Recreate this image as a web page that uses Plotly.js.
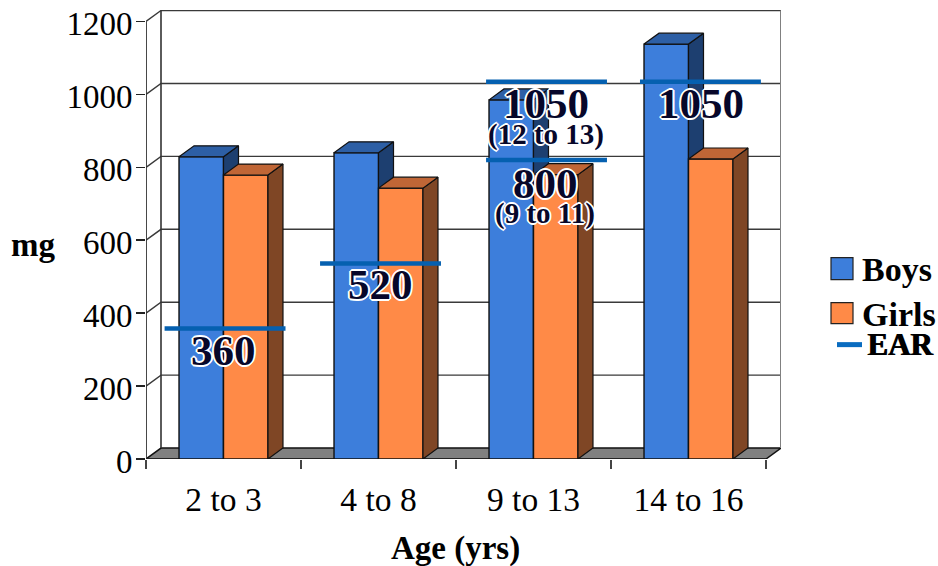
<!DOCTYPE html>
<html>
<head>
<meta charset="utf-8">
<script src="https://cdn.plot.ly/plotly-3.0.1.min.js"></script>
<style>html,body{margin:0;padding:0;background:#fff}#c{width:938px;height:566px}</style>
</head>
<body>
<div id="c"></div>
<script>
const categories = ['2 to 3', '4 to 8', '9 to 13', '14 to 16'];
const groupCenters = [0.5, 1.5, 2.5, 3.5];
const boys = [829, 840, 985, 1138];
const girls = [779, 743, 780, 823];
const yTicks = [0, 200, 400, 600, 800, 1000, 1200];
// EAR bars: where each one sits in the picture, and its label
const earCenters = [0.51, 1.513, 2.584, 2.584, 3.577];
const earLevels = [358, 536, 1035, 820, 1035];
const earLabels = [
  {t: '360', x: 0.497, y: 297, big: true},
  {t: '520', x: 1.51, y: 478, big: true},
  {t: '1050', x: 2.58, y: 974, big: true},
  {t: '(12 to 13)', x: 2.58, y: 889, big: false},
  {t: '800', x: 2.58, y: 757, big: true},
  {t: '(9 to 11)', x: 2.575, y: 672, big: false},
  {t: '1050', x: 3.58, y: 974, big: true}
];

const W = 938, H = 566;
const M = {l: 146, r: 157, t: 10, b: 106.5};
const plotW = W - M.l - M.r, plotH = H - M.t - M.b;
const pxPerGroup = 155, pxPerUnit = 0.365;
const xMax = plotW / pxPerGroup, yMax = plotH / pxPerUnit;
const dX = 15 / pxPerGroup, dY = 30;      // depth of the 3-D look
const barW = 0.287, earW = 0.78;
const serif = '"Liberation Serif","Times New Roman",serif';
const skip = {hoverinfo: 'skip', showlegend: false, cliponaxis: false};

function px(p) { return (p - M.l) / plotW; }
function py(p) { return (H - M.b - p) / plotH; }

// ---- walls and floor (bottom subplot)
const traces = [];
traces.push(Object.assign({type: 'scatter', mode: 'lines', x: [0, dX, 4 + dX, 4, 0], y: [0, dY, dY, 0, 0],
  fill: 'toself', fillcolor: '#808080', line: {color: '#111', width: 1.5}}, skip));
const gridX = [], gridY = [];
yTicks.forEach(v => {
  gridX.push(0, dX, 4 + dX, null);
  gridY.push(v, v + dY, v + dY, null);
});
traces.push(Object.assign({type: 'scatter', mode: 'lines', x: gridX.slice(4), y: gridY.slice(4),
  line: {color: '#3a3a3a', width: 1.4}}, skip));
traces.push(Object.assign({type: 'scatter', mode: 'lines', x: [dX, dX], y: [dY, 1200 + dY],
  line: {color: '#333', width: 1.6}}, skip));
traces.push(Object.assign({type: 'scatter', mode: 'lines', x: [4 + dX, 4 + dX], y: [dY, 1200 + dY],
  line: {color: '#808080', width: 2}}, skip));
traces.push(Object.assign({type: 'scatter', mode: 'lines', x: [0, 0], y: [0, 1200],
  line: {color: '#333', width: 1.8}}, skip));
traces.push(Object.assign({type: 'scatter', mode: 'lines', x: [0, 4], y: [0, 0],
  line: {color: '#222', width: 1.5}}, skip));

// ---- one bar series with its top and side faces
function series(vals, offset, front, top, side, xa, ya) {
  const lefts = groupCenters.map(c => c + offset);
  traces.push({type: 'bar', x: groupCenters, y: vals, offset: offset, width: barW,
    marker: {color: front, line: {color: '#111', width: 1.4}},
    hoverinfo: 'skip', showlegend: false, xaxis: xa, yaxis: ya});
  const tx = [], ty = [], sx = [], sy = [];
  vals.forEach((v, i) => {
    const a = lefts[i], b = a + barW;
    tx.push(a, a + dX, b + dX, b, a, null);
    ty.push(v, v + dY, v + dY, v, v, null);
    sx.push(b, b + dX, b + dX, b, b, null);
    sy.push(v, v + dY, dY, 0, v, null);
  });
  traces.push(Object.assign({type: 'scatter', mode: 'lines', x: sx, y: sy, fill: 'toself', fillcolor: side,
    line: {color: '#111', width: 1.2}, xaxis: xa, yaxis: ya}, skip));
  traces.push(Object.assign({type: 'scatter', mode: 'lines', x: tx, y: ty, fill: 'toself', fillcolor: top,
    line: {color: '#111', width: 1.2}, xaxis: xa, yaxis: ya}, skip));
}
series(boys, -barW, '#3d7edb', '#2d5fa5', '#1d3f70', 'x2', 'y2');
series(girls, 0, '#ff8a47', '#c06636', '#7f4625', 'x3', 'y3');

// ---- EAR bars
const ex = [], ey = [];
earCenters.forEach((c, i) => {
  ex.push(c - earW / 2, c + earW / 2, null);
  ey.push(earLevels[i], earLevels[i], null);
});
traces.push(Object.assign({type: 'scatter', mode: 'lines', x: ex, y: ey,
  line: {color: '#0560b0', width: 4.5}, xaxis: 'x3', yaxis: 'y3'}, skip));

const halo = '1px 0 0 #fff,-1px 0 0 #fff,0 1px 0 #fff,0 -1px 0 #fff,1px 1px 0 #fff,-1px -1px 0 #fff,1px -1px 0 #fff,-1px 1px 0 #fff,2px 0 0 #fff,-2px 0 0 #fff,0 2px 0 #fff,0 -2px 0 #fff';
const annotations = earLabels.map(l => ({
  text: '<b>' + l.t + '</b>', xref: 'x', yref: 'y', x: l.x, y: l.y, showarrow: false,
  xanchor: 'center', yanchor: 'middle',
  font: {family: serif, size: l.big ? 43 : 29, color: '#07072a', shadow: halo}
}));
function note(text, xp, yp, size, anchor, shadow) {
  annotations.push({text: '<b>' + text + '</b>', xref: 'paper', yref: 'paper', x: px(xp), y: py(yp),
    showarrow: false, xanchor: anchor, yanchor: 'middle',
    font: {family: serif, size: size, color: '#000', shadow: shadow || 'none'}});
}
note('mg', 33, 245, 33, 'center');
note('Age (yrs)', 455, 549, 33, 'center');
note('Boys', 860, 270, 34, 'left');
note('Girls', 860, 315, 34, 'left');
note('EAR', 865, 345, 31, 'left', '1px 0 0 #000');

function swatch(x0, x1, y0, y1, fill) {
  return {type: 'rect', xref: 'paper', yref: 'paper', x0: px(x0), x1: px(x1), y0: py(y0), y1: py(y1),
    fillcolor: fill, line: {color: '#222', width: 1.2}, layer: 'above'};
}
const shapes = [
  swatch(831, 853, 258, 280, '#3d7edb'),
  swatch(831, 853, 303, 324, '#ff8a47'),
  {type: 'line', xref: 'paper', yref: 'paper', x0: px(837), x1: px(862), y0: py(345), y1: py(345),
    line: {color: '#0a6cc0', width: 5}, layer: 'above'}
];

const hiddenX = {range: [0, xMax], visible: false, overlaying: 'x', fixedrange: true};
const hiddenY = {range: [0, yMax], visible: false, overlaying: 'y', fixedrange: true};
const layout = {
  width: W, height: H, margin: M, paper_bgcolor: '#fff', plot_bgcolor: '#fff',
  showlegend: false, barmode: 'overlay',
  font: {family: serif, color: '#000'},
  xaxis: {range: [0, xMax], tickvals: groupCenters, ticktext: categories, ticks: '', showgrid: false,
    zeroline: false, showline: false, tickfont: {family: serif, size: 33.5, color: '#000'},
    ticklabelstandoff: 17, fixedrange: true,
    minor: {tickvals: [0, 1, 2, 3, 4], ticks: 'outside', ticklen: 9, tickwidth: 1.5, tickcolor: '#444', showgrid: false}},
  yaxis: {range: [0, yMax], tickvals: yTicks, ticks: 'outside', ticklen: 9, tickwidth: 1.5, tickcolor: '#222',
    showgrid: false, zeroline: false, showline: false, tickfont: {family: serif, size: 33, color: '#000'},
    ticklabelstandoff: -3, ticklabelshift: 2, fixedrange: true},
  xaxis2: hiddenX, yaxis2: hiddenY, xaxis3: hiddenX, yaxis3: hiddenY,
  annotations: annotations, shapes: shapes
};
Plotly.newPlot('c', traces, layout, {displayModeBar: false, staticPlot: true});
</script>
</body>
</html>
